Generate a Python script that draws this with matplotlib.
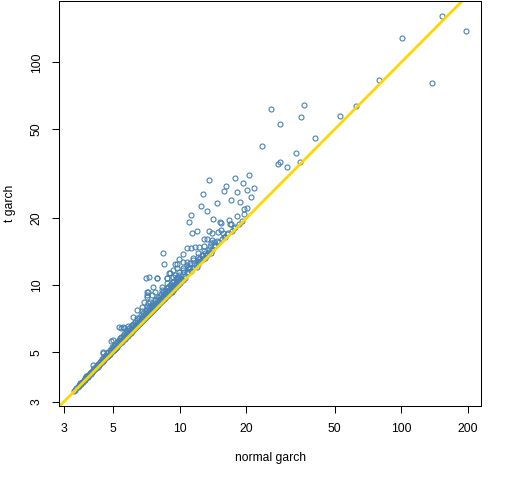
import matplotlib
matplotlib.use("Agg")
import matplotlib.pyplot as plt
from matplotlib.ticker import FixedLocator, NullLocator

# sparse upper points (normal garch, t garch)
upper_x = [153, 196, 101, 138, 79, 62.6, 53.1, 36.5, 35.4, 25.9, 28.4, 40.9, 23.6, 33.6,
           35.0, 28.4, 27.9, 30.6, 13.6, 17.8, 20.6, 16.2, 19.4, 12.8, 15.9, 18.2, 20.2,
           21.7, 21.0, 14.8, 17.1, 18.7, 12.5, 13.3, 19.6, 20.2, 11.3, 11.05, 14.2, 15.25,
           15.4, 16.75, 16.9, 17.1, 18.2, 19.6, 19.2, 11.4, 12.0, 13.6, 14.0, 14.9, 15.4,
           15.7, 16.4, 12.9, 13.3, 14.0, 14.3, 13.9]
upper_y = [161, 138, 129, 81, 83, 63.5, 57.3, 64.2, 56.7, 61.6, 52.7, 45.6, 42.0, 39.1,
           35.6, 35.6, 34.9, 33.8, 29.6, 30.2, 31.1, 27.8, 28.7, 25.6, 26.4, 26.1, 26.7,
           27.2, 24.8, 23.3, 24.1, 23.6, 22.6, 21.5, 21.9, 22.2, 20.6, 19.2, 19.8, 19.2,
           19.0, 19.55, 18.8, 18.8, 20.4, 20.8, 19.4, 17.1, 17.5, 17.5, 17.1, 17.3, 17.65,
           17.1, 16.9, 16.05, 16.2, 15.95, 15.6, 15.45]

# middle scatter above the band
mid_x = [8.43, 10.75, 11.21, 11.72, 12.26, 12.88, 13.70, 14.29, 12.78, 13.24, 13.84, 10.38,
         9.96, 8.52, 9.52, 10.75, 11.13, 11.52, 12.13, 9.75, 10.38, 10.94, 9.96, 10.75,
         9.36, 8.98, 7.29, 7.02, 7.92, 8.79, 9.36, 9.86, 10.21, 9.36, 8.74, 8.29, 8.88,
         9.36, 7.60, 7.14, 7.74, 8.29, 8.74, 9.20, 7.09, 7.47, 8.01, 8.43, 6.90, 7.35,
         7.74, 8.15, 7.09, 7.47, 6.74, 7.21, 7.09, 7.21, 6.40, 6.74, 6.17, 6.43, 6.74,
         5.57, 5.35, 5.86, 6.07, 5.41, 5.62, 4.88, 5.02, 5.19, 4.52, 4.51, 4.08, 3.78, 3.55,
         11.52, 12.35, 12.13, 11.93, 12.57, 12.13, 13.0, 14.69, 10.38, 10.75, 11.13, 10.38,
         9.52, 9.04, 10.03, 10.57, 7.86, 8.74, 9.69]
mid_y = [14.0, 14.65, 14.65, 14.9, 14.9, 15.0, 15.0, 15.0, 13.68, 13.82, 14.0, 13.82,
         13.08, 12.46, 12.46, 12.76, 12.55, 12.99, 13.44, 11.92, 11.92, 12.12, 11.51, 11.51,
         11.71, 11.32, 10.93, 10.75, 10.75, 10.75, 10.93, 10.93, 10.56, 10.38, 10.21, 9.86, 9.86,
         9.86, 9.79, 9.36, 9.36, 9.53, 9.36, 9.36, 8.89, 9.05, 8.89, 8.89, 8.44, 8.44,
         8.59, 8.59, 8.08, 8.08, 7.97, 9.36, 9.03, 8.30, 7.75, 7.65, 7.23, 7.11, 7.23,
         6.52, 6.48, 6.57, 6.63, 6.42, 6.42, 5.63, 5.68, 5.58, 5.04, 4.95, 4.39, 3.92, 3.66,
         13.22, 13.22, 12.76, 12.1, 13.68, 13.92, 13.92, 15.8, 12.76, 12.33, 11.92, 11.71,
         11.12, 11.32, 10.75, 10.75, 10.75, 10.75, 12.42]

# points hugging the line for larger values
near_x = [10.3, 10.6, 10.9, 11.2, 11.5, 11.8, 12.1, 12.4, 12.7, 13.0, 13.3, 13.6, 14.0,
          10.5, 11.0, 11.6, 12.2, 12.9, 13.5, 14.5, 15.0, 15.5, 15.8, 16.0, 16.6, 17.2,
          17.6, 17.8, 18.5]
near_y = [10.6, 11.0, 11.3, 11.6, 11.9, 12.3, 12.5, 12.8, 13.1, 13.3, 13.6, 14.1, 14.4,
          11.5, 12.0, 12.6, 13.1, 14.2, 14.6, 15.2, 15.6, 16.2, 16.4, 16.5, 17.2, 17.6,
          18.1, 18.3, 18.9]

# dense band just above the line
band_x = [3.33, 3.38, 3.42, 3.46, 3.50, 3.53, 3.57, 3.60, 3.63, 3.66, 3.69, 3.72, 3.75,
          3.78, 3.81, 3.84, 3.87, 3.90, 3.93, 3.96, 3.99, 4.02,
          4.05, 4.08, 4.11, 4.14, 4.17, 4.20, 4.23, 4.26, 4.29, 4.32, 4.35, 4.38, 4.41,
          4.44, 4.47, 4.50, 4.53, 4.56, 4.59, 4.62, 4.65, 4.68, 4.71, 4.74, 4.77, 4.80,
          4.83, 4.86, 4.89, 4.92, 4.95, 4.98,
          5.01, 5.04, 5.07, 5.10, 5.13, 5.16, 5.19, 5.22, 5.25, 5.28, 5.31, 5.34, 5.37,
          5.40, 5.43, 5.46, 5.49, 5.52, 5.55, 5.58, 5.61, 5.64, 5.67, 5.70, 5.73, 5.76,
          5.79, 5.82, 5.85, 5.88, 5.91, 5.94, 5.97,
          6.00, 6.03, 6.07, 6.10, 6.13, 6.16, 6.20, 6.23, 6.26, 6.30, 6.33, 6.36, 6.40,
          6.43, 6.46, 6.50, 6.53, 6.56, 6.60, 6.63, 6.67, 6.70, 6.73, 6.77, 6.80, 6.84,
          6.87, 6.91, 6.95, 6.98,
          7.02, 7.05, 7.10, 7.13, 7.17, 7.21, 7.25, 7.29, 7.33, 7.37, 7.41, 7.45, 7.49,
          7.53, 7.57, 7.61, 7.65, 7.69, 7.73, 7.77, 7.81, 7.85, 7.89, 7.93, 7.97,
          8.02, 8.07, 8.12, 8.17, 8.22, 8.27, 8.32, 8.37, 8.42, 8.47, 8.52, 8.57, 8.62,
          8.67, 8.72, 8.77, 8.82, 8.88, 8.93, 8.98, 9.04, 9.10, 9.16, 9.22, 9.28, 9.34,
          9.40, 9.46, 9.52, 9.58, 9.64, 9.70, 9.76, 9.82, 9.88, 9.94, 10.00, 10.06]
band_y = [3.36, 3.40, 3.46, 3.49, 3.55, 3.56, 3.62, 3.64, 3.69, 3.70, 3.76, 3.76, 3.82,
          3.83, 3.89, 3.89, 3.95, 3.95, 4.03, 4.01, 4.09, 4.07,
          4.16, 4.13, 4.24, 4.20, 4.31, 4.26, 4.38, 4.32, 4.44, 4.38, 4.52, 4.44, 4.58,
          4.51, 4.66, 4.57, 4.72, 4.63, 4.80, 4.70, 4.86, 4.76, 4.95, 4.82, 5.00, 4.88,
          5.10, 4.94, 5.15, 5.00, 5.28, 5.06,
          5.22, 5.12, 5.35, 5.18, 5.42, 5.25, 5.50, 5.31, 5.58, 5.37, 5.70, 5.44, 5.78,
          5.50, 5.62, 5.85, 5.59, 5.95, 5.66, 5.80, 6.05, 5.74, 5.92, 6.18, 5.84, 6.02,
          6.30, 5.93, 6.12, 6.40, 6.02, 6.22, 6.08,
          6.55, 6.14, 6.35, 6.22, 6.70, 6.28, 6.48, 6.35, 6.85, 6.42, 6.62, 6.48, 7.00,
          6.56, 6.78, 6.63, 7.15, 6.69, 6.92, 6.76, 7.35, 6.84, 7.05, 6.91, 7.50, 6.98,
          7.22, 7.05, 7.65, 7.12,
          7.40, 7.20, 7.85, 7.28, 7.55, 7.36, 8.00, 7.44, 7.72, 7.52, 8.15, 7.60, 7.90,
          7.69, 8.35, 7.77, 8.05, 7.85, 8.55, 7.93, 8.22, 8.01, 8.70, 8.10, 8.40,
          8.19, 8.55, 8.95, 8.34, 8.70, 9.15, 8.50, 8.85, 9.30, 8.65, 9.00, 9.55, 8.80,
          9.15, 9.70, 8.96, 9.35, 9.85, 9.12, 9.50, 10.05, 9.29, 9.70, 10.30, 9.48, 9.90,
          10.50, 9.66, 10.10, 10.70, 9.84, 10.30, 10.90, 10.03, 10.45, 11.10, 10.21, 10.65]

normal_garch = upper_x + mid_x + near_x + band_x
t_garch = upper_y + mid_y + near_y + band_y

x_ticks = [3, 5, 10, 20, 50, 100, 200]
y_ticks = [3, 5, 10, 20, 50, 100]

plt.rcParams['font.family'] = ['Liberation Sans', 'DejaVu Sans']

fig = plt.figure(figsize=(5.12, 4.8), dpi=100)
ax = fig.add_axes([0.1158, 0.1542, 0.8237, 0.8431])

ax.plot(normal_garch, t_garch, linestyle='none', marker='o', markersize=3.6,
        markerfacecolor='none', markeredgecolor='steelblue', markeredgewidth=0.8)
# reference line y = x
ax.axline((1, 1), (10, 10), color='gold', linewidth=2)

ax.set_xscale('log')
ax.set_yscale('log')
ax.set_xlim(2.862, 228.9)
ax.set_ylim(2.875, 187.7)

ax.xaxis.set_major_locator(FixedLocator(x_ticks))
ax.yaxis.set_major_locator(FixedLocator(y_ticks))
ax.xaxis.set_minor_locator(NullLocator())
ax.yaxis.set_minor_locator(NullLocator())
ax.set_xticklabels([str(t) for t in x_ticks])
ax.set_yticklabels([str(t) for t in y_ticks], rotation=90, va='center')

ax.tick_params(direction='out', length=5, width=0.75, labelsize=8.7, pad=7, colors='black')
for s in ax.spines.values():
    s.set_linewidth(0.75)

ax.set_xlabel("normal garch", fontsize=8.7)
ax.set_ylabel("t garch", fontsize=8.7)
ax.xaxis.label.set_va('center')
ax.yaxis.label.set_va('center')
ax.xaxis.set_label_coords(0.5, -0.128)
ax.yaxis.set_label_coords(-0.118, 0.5)

fig.savefig("out.png", dpi=100)
